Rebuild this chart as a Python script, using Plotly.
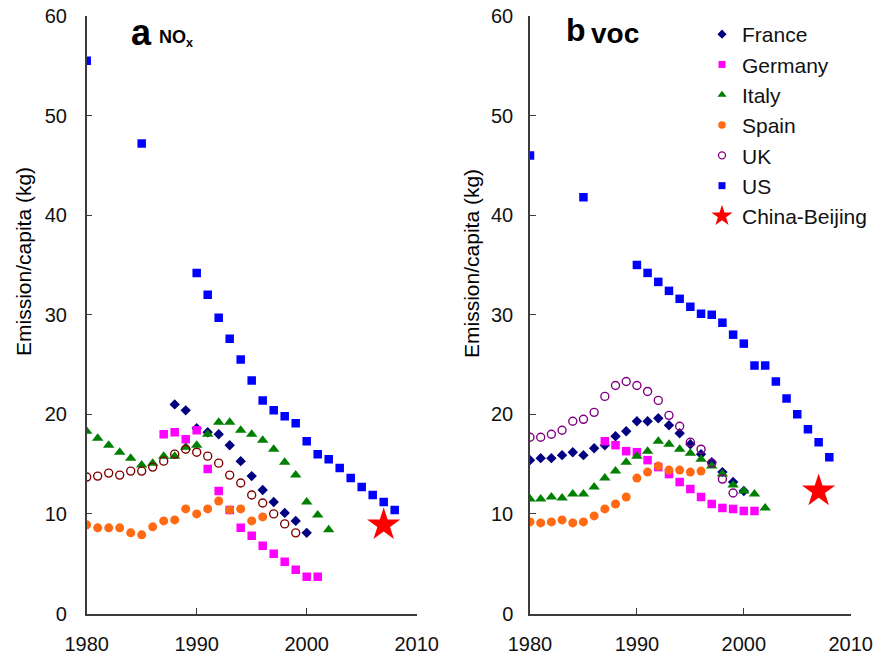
import plotly.graph_objects as go

# ---------------- data ----------------
# Panel a: NOx emission per capita (kg)
fr_nox_years = [1988, 1989, 1990, 1991, 1992, 1993, 1994, 1995, 1996, 1997, 1998, 1999, 2000]
fr_nox = [21.0, 20.4, 18.6, 18.2, 18.0, 16.9, 15.3, 13.8, 12.4, 11.2, 10.1, 9.3, 8.1]

de_nox_years = [1987, 1988, 1989, 1990, 1991, 1992, 1993, 1994, 1995, 1996, 1997, 1998, 1999, 2000, 2001]
de_nox = [18.0, 18.2, 17.5, 18.4, 14.5, 12.3, 10.4, 8.6, 7.8, 6.8, 6.0, 5.2, 4.4, 3.7, 3.7]

it_nox_years = [1980, 1981, 1982, 1983, 1984, 1985, 1986, 1987, 1988, 1989, 1990, 1991,
                1992, 1993, 1994, 1995, 1996, 1997, 1998, 1999, 2000, 2001, 2002]
it_nox = [18.3, 17.6, 16.9, 16.2, 15.6, 14.9, 15.1, 15.8, 15.8, 16.7, 16.9, 18.0,
          19.2, 19.2, 18.4, 18.0, 17.4, 16.5, 15.2, 13.9, 11.2, 9.9, 8.4]

es_nox_years = [1980, 1981, 1982, 1983, 1984, 1985, 1986, 1987, 1988, 1989, 1990, 1991,
                1992, 1993, 1994, 1995, 1996]
es_nox = [8.9, 8.6, 8.6, 8.6, 8.1, 7.9, 8.7, 9.3, 9.4, 10.5, 10.0, 10.5, 11.3, 10.4, 10.5, 9.3, 9.7]

uk_nox_years = [1980, 1981, 1982, 1983, 1984, 1985, 1986, 1987, 1988, 1989, 1990, 1991,
                1992, 1993, 1994, 1995, 1996, 1997, 1998, 1999]
uk_nox = [13.7, 13.8, 14.1, 13.9, 14.3, 14.3, 14.7, 15.3, 16.0, 16.5, 16.2, 15.8,
          15.1, 13.9, 13.1, 11.9, 11.1, 10.0, 9.0, 8.1]

us_years = [1980, 1985, 1990, 1991, 1992, 1993, 1994, 1995, 1996, 1997, 1998, 1999,
            2000, 2001, 2002, 2003, 2004, 2005, 2006, 2007, 2008]
us_nox = [55.5, 47.2, 34.2, 32.0, 29.7, 27.6, 25.5, 23.4, 21.4, 20.4, 19.8, 19.1,
          17.3, 16.0, 15.5, 14.6, 13.6, 12.7, 11.9, 11.2, 10.4]

cn_years = [2007]
cn_nox = [8.9]

# Panel b: VOC emission per capita (kg)
fr_voc_years = [1980, 1981, 1982, 1983, 1984, 1985, 1986, 1987, 1988, 1989, 1990,
                1991, 1992, 1993, 1994, 1995, 1996, 1997, 1998, 1999, 2000]
fr_voc = [15.4, 15.6, 15.6, 15.9, 16.2, 15.9, 16.6, 16.9, 17.8, 18.3, 19.3,
          19.3, 19.6, 18.9, 18.1, 17.0, 16.0, 15.2, 14.2, 13.2, 12.3]

de_voc_years = [1987, 1988, 1989, 1990, 1991, 1992, 1993, 1994, 1995, 1996, 1997, 1998, 1999, 2000, 2001]
de_voc = [17.3, 16.9, 16.3, 16.2, 15.4, 14.7, 14.0, 13.2, 12.5, 11.7, 11.0, 10.6, 10.5, 10.3, 10.3]

it_voc_years = it_nox_years
it_voc = [11.5, 11.5, 11.7, 11.6, 12.0, 12.0, 12.7, 13.6, 14.3, 15.2, 15.8, 16.3,
          17.3, 17.0, 16.5, 16.1, 15.5, 14.8, 14.0, 12.9, 12.3, 12.0, 10.6]

es_voc_years = es_nox_years
es_voc = [9.2, 9.1, 9.2, 9.4, 9.1, 9.2, 9.8, 10.5, 11.0, 11.7, 13.6, 14.2, 14.8, 14.4, 14.4, 14.2, 14.3]

uk_voc_years = uk_nox_years
uk_voc = [17.7, 17.7, 18.0, 18.4, 19.3, 19.5, 20.2, 21.8, 22.9, 23.3, 22.9, 22.3,
          21.4, 19.9, 18.8, 17.2, 16.5, 15.1, 13.5, 12.1]

us_voc = [46.0, 41.8, 35.0, 34.2, 33.3, 32.4, 31.6, 30.8, 30.1, 30.0, 29.2, 28.0,
          27.1, 24.9, 24.9, 23.3, 21.6, 20.0, 18.5, 17.2, 15.7]

cn_voc = [12.3]

x_ticks = [1980, 1990, 2000, 2010]
y_ticks = [0, 10, 20, 30, 40, 50, 60]
legend_names = ["France", "Germany", "Italy", "Spain", "UK", "US", "China-Beijing"]

# ---------------- styling ----------------
W, H = 874, 658
FONT = "Liberation Sans, Arial, sans-serif"
C_FR, C_DE, C_IT, C_ES = "#000080", "#FF00FF", "#008000", "#FF6A13"
C_UK_A, C_UK_B, C_US, C_CN = "#800000", "#800080", "#0000FF", "#FF0000"

fig = go.Figure()


def add_panel(xa, ya, series):
    for xs, ys, sym, col, size, open_ in series:
        if open_:
            marker = dict(symbol="circle-open", size=size, color=col, line=dict(width=1.4, color=col))
        else:
            marker = dict(symbol=sym, size=size, color=col, line=dict(width=0))
        fig.add_trace(go.Scatter(x=xs, y=ys, mode="markers", marker=marker,
                                 xaxis=xa, yaxis=ya, showlegend=False, hoverinfo="x+y"))


add_panel("x", "y", [
    (fr_nox_years, fr_nox, "diamond", C_FR, 8, False),
    (de_nox_years, de_nox, "square", C_DE, 8.5, False),
    (it_nox_years, it_nox, "triangle-up", C_IT, 10, False),
    (es_nox_years, es_nox, "circle", C_ES, 9, False),
    (uk_nox_years, uk_nox, "circle", C_UK_A, 8, True),
    (us_years, us_nox, "square", C_US, 8.5, False),
    (cn_years, cn_nox, "star", C_CN, 25, False),
])
add_panel("x2", "y2", [
    (fr_voc_years, fr_voc, "diamond", C_FR, 8, False),
    (de_voc_years, de_voc, "square", C_DE, 8.5, False),
    (it_voc_years, it_voc, "triangle-up", C_IT, 10, False),
    (es_voc_years, es_voc, "circle", C_ES, 9, False),
    (uk_voc_years, uk_voc, "circle", C_UK_B, 8, True),
    (us_years, us_voc, "square", C_US, 8.5, False),
    (cn_years, cn_voc, "star", C_CN, 25, False),
])

# legend-only entries
leg_specs = [("diamond", C_FR, 7), ("square", C_DE, 7), ("triangle-up", C_IT, 8),
             ("circle", C_ES, 7.5), ("circle-open", C_UK_B, 7), ("square", C_US, 7),
             ("star", C_CN, 22)]
for name, (sym, col, sz) in zip(legend_names, leg_specs):
    m = dict(symbol=sym, size=sz, color=col)
    if sym == "circle-open":
        m["line"] = dict(width=1.3, color=col)
    fig.add_trace(go.Scatter(x=[None], y=[None], mode="markers", name=name, marker=m,
                             xaxis="x2", yaxis="y2", showlegend=True))

# geometry (pixels -> paper)
ax_a = (86.7, 416.7)
ax_b = (530.0, 850.7)
y_top, y_bot = 16.0, 613.5
ydom = [(H - y_bot) / H, (H - y_top) / H]

axis_common = dict(showline=True, linecolor="#3c3c3c", linewidth=1.5, ticks="inside",
                   ticklen=6, tickwidth=1.3, tickcolor="#3c3c3c", showgrid=False,
                   zeroline=False, tickfont=dict(family=FONT, size=20, color="#111111"),
                   mirror=False, automargin=False)

fig.update_layout(
    width=W, height=H,
    margin=dict(l=0, r=0, t=0, b=0, autoexpand=False),
    paper_bgcolor="white", plot_bgcolor="white",
    font=dict(family=FONT, size=20, color="#111111"),
    xaxis=dict(domain=[ax_a[0] / W, ax_a[1] / W], range=[1980, 2010], tickvals=x_ticks,
               anchor="y", ticklabelstandoff=12, **axis_common),
    yaxis=dict(domain=ydom, range=[0, 60], tickvals=y_ticks, anchor="x",
               ticklabelstandoff=14, **axis_common),
    xaxis2=dict(domain=[ax_b[0] / W, ax_b[1] / W], range=[1980, 2010], tickvals=x_ticks,
                anchor="y2", ticklabelstandoff=12, **axis_common),
    yaxis2=dict(domain=ydom, range=[0, 60], tickvals=y_ticks, anchor="x2",
                ticklabelstandoff=11, **axis_common),
    legend=dict(x=(742 - 40) / W, y=(H - 14) / H, xanchor="left", yanchor="top",
                font=dict(family=FONT, size=21, color="#111111"),
                bgcolor="rgba(0,0,0,0)", borderwidth=0, itemsizing="trace"),
    showlegend=True,
)


def ann(text, px, py, size, xanchor="left", yanchor="middle", angle=0, bold=False):
    t = f"<b>{text}</b>" if bold else text
    fig.add_annotation(text=t, x=px / W, y=(H - py) / H, xref="paper", yref="paper",
                       xanchor=xanchor, yanchor=yanchor, showarrow=False, textangle=angle,
                       font=dict(family=FONT, size=size, color="#000000"))


# panel labels
ann("a", 129, 32, 36, bold=True)
ann("NO<sub>x</sub>", 157, 38, 18, bold=True)
ann("b", 564, 30, 32, bold=True)
ann("voc", 589, 33, 28, bold=True)

# y-axis titles
ann("Emission/capita (kg)", 23, 262, 21, xanchor="center", angle=-90)
ann("Emission/capita (kg)", 472, 264, 21, xanchor="center", angle=-90)

fig.write_html("out.html")
